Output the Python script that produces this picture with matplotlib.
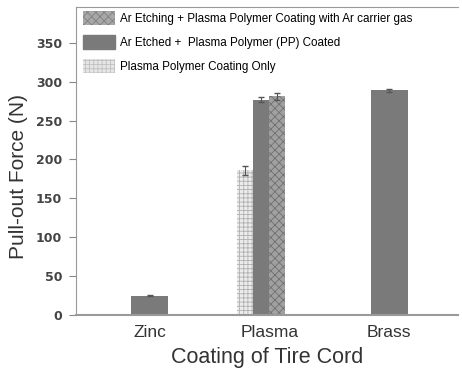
import numpy as np
import matplotlib.pyplot as plt
from matplotlib.patches import Patch

# Datos
categorias = ['Zinc', 'Plasma', 'Brass']
zinc = [25]
zinc_err = [1]
plasma_labels = ['Plasma Polymer Coating Only',
                 'Ar Etched +  Plasma Polymer (PP) Coated',
                 'Ar Etching + Plasma Polymer Coating with Ar carrier gas']
plasma = [186, 277, 281]
plasma_err = [6, 3, 4]
brass = [289]
brass_err = [2]

plt.rcParams['font.family'] = ['Liberation Sans', 'DejaVu Sans']
plt.rcParams['hatch.linewidth'] = 0.6
fig = plt.figure(figsize=(4.62, 3.68), dpi=100)
ax = fig.add_axes([0.1645, 0.144, 0.827, 0.837])

x = np.array([1.0, 2.0, 3.0])
oscuro = '#7a7a7a'
estilos = [dict(color='#ececec', hatch='++++', edgecolor='#b0b0b0'),
           dict(color=oscuro, hatch=None, edgecolor=oscuro),
           dict(color='#a0a0a0', hatch='xxxx', edgecolor='#707070')]

ax.bar(x[0], zinc, 0.31, color=oscuro, yerr=zinc_err, capsize=2,
       error_kw=dict(ecolor='#555555', lw=0.8))
ax.bar(x[2], brass, 0.31, color=oscuro, yerr=brass_err, capsize=2,
       error_kw=dict(ecolor='#555555', lw=0.8))

w = 0.135
for i, (v, e, st) in enumerate(zip(plasma, plasma_err, estilos)):
    xi = x[1] - 0.073 + (i - 1) * w
    ax.bar(xi, v, w, color=st['color'], hatch=st['hatch'],
           edgecolor=st['edgecolor'], linewidth=0, yerr=e, capsize=2,
           error_kw=dict(ecolor='#555555', lw=0.8))

ax.set_xlim(0.383, 3.575)
ax.set_ylim(0, 396)
ax.set_yticks(np.arange(0, 351, 50))
ax.set_yticklabels([str(v) for v in range(0, 351, 50)],
                   family='DejaVu Sans', weight='bold', fontsize=9, color='#444444')
ax.set_xticks(x)
ax.set_xticklabels(categorias, fontsize=12.5, color='#333333')
ax.tick_params(axis='x', length=0, pad=7)
ax.tick_params(axis='y', length=5, pad=5, color='#888888')
ax.set_ylabel('Pull-out Force (N)', fontsize=15, color='#333333')
ax.yaxis.set_label_coords(-0.126, 0.451)
ax.set_xlabel('Coating of Tire Cord', fontsize=15.5, color='#333333', labelpad=5)

for s in ax.spines.values():
    s.set_color('#999999')
ax.spines['right'].set_visible(False)
ax.spines['bottom'].set_linewidth(1.5)

handles = [Patch(facecolor='#a8a8a8', hatch='xxxx', edgecolor='#808080', linewidth=0),
           Patch(facecolor=oscuro, edgecolor=oscuro),
           Patch(facecolor='#e6e6e6', hatch='++++', edgecolor='#c0c0c0', linewidth=0)]
labels = [plasma_labels[2], plasma_labels[1], plasma_labels[0]]
ax.legend(handles, labels, loc='upper left', bbox_to_anchor=(3 / 382, 1),
          fontsize=8.4, frameon=False, handlelength=2.75, handleheight=1.4,
          labelspacing=0.9, borderpad=0.35, borderaxespad=0, handletextpad=0.45)

fig.savefig('out.png', dpi=100)
